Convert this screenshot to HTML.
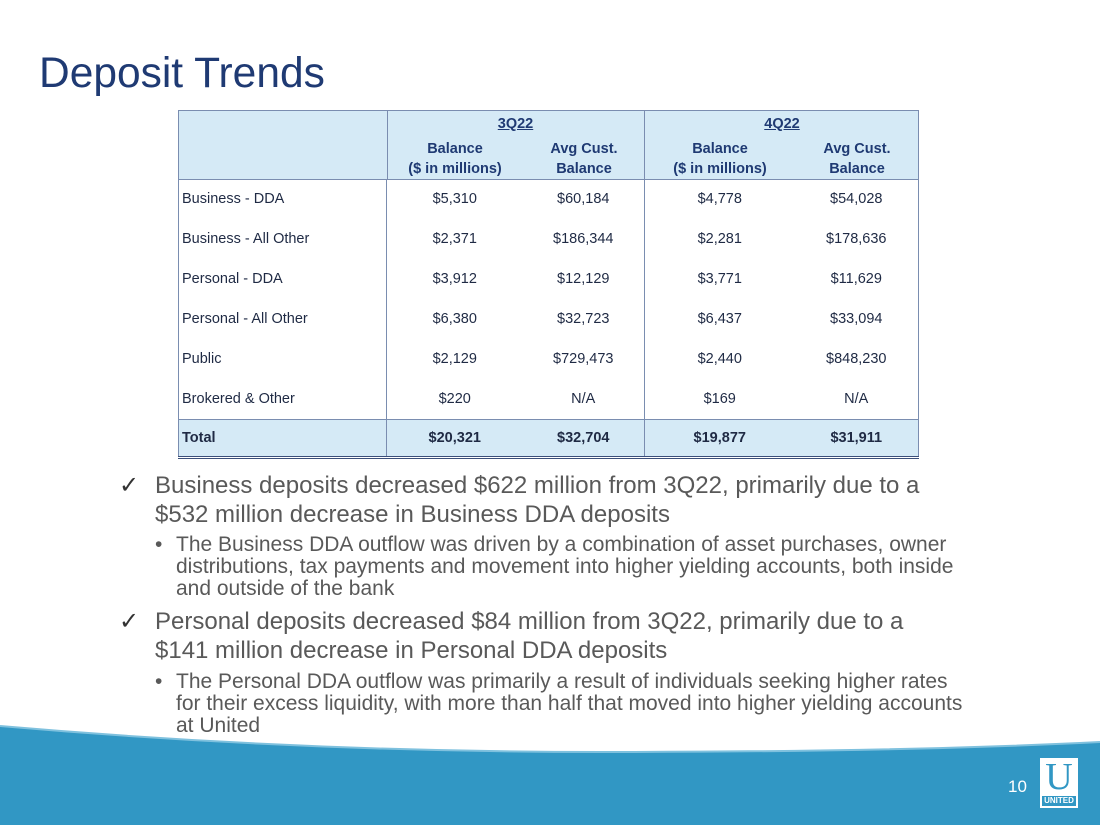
<!DOCTYPE html>
<html><head><meta charset="utf-8"><style>
body{margin:0;width:1100px;height:825px;position:relative;overflow:hidden;background:#fff;font-family:"Liberation Sans",sans-serif}
.title{position:absolute;left:39px;top:50px;font-size:42.5px;color:#1f3a73}
.hdr{position:absolute;left:178px;top:110px;width:739px;height:68px;background:#d5eaf6;border:1px solid #7a8db0;color:#1f3a73;font-weight:bold;font-size:14.5px}
.hdr div{position:absolute;text-align:center;line-height:20px}
table{position:absolute;left:178px;top:179px;width:741px;border-collapse:collapse;font-size:14.5px;color:#1f2a44;table-layout:fixed;line-height:16px;border:1px solid #7a8db0;border-top:none}
td{height:40px;padding:0;text-align:center;vertical-align:middle;overflow:hidden;white-space:nowrap}
td.l{text-align:left;padding-left:3px}
.tot td{background:#d5eaf6;font-weight:bold;border-top:1px solid #7a8db0;border-bottom:3px double #3a4f7a;height:36px}
.vb{border-left:1px solid #7a8db0}
.b1{position:absolute;left:155px;font-size:24px;color:#595959;line-height:29px;width:800px}
.b1:before{content:"✓";position:absolute;left:-36px;color:#333}
.b2{position:absolute;left:176px;font-size:21px;color:#595959;line-height:22px;width:800px}
.b2:before{content:"•";position:absolute;left:-21px}
</style></head><body>
<div class="title">Deposit Trends</div>
<div class="hdr">
<div style="left:208px;top:0;width:257px;height:68px;border-left:1px solid #7a8db0"></div>
<div style="left:465px;top:0;width:274px;height:68px;border-left:1px solid #7a8db0"></div>
<div style="left:208px;top:3px;width:257px;text-decoration:underline">3Q22</div>
<div style="left:466px;top:3px;width:274px;text-decoration:underline">4Q22</div>
<div style="left:208px;top:28px;width:136px">Balance<br>($ in millions)</div>
<div style="left:344px;top:28px;width:122px">Avg Cust.<br>Balance</div>
<div style="left:466px;top:28px;width:150px">Balance<br>($ in millions)</div>
<div style="left:616px;top:28px;width:124px">Avg Cust.<br>Balance</div>
</div>
<table>
<colgroup><col style="width:208px"><col style="width:136px"><col style="width:122px"><col style="width:150px"><col></colgroup>
<tr><td class="l">Business - DDA</td><td class="vb">$5,310</td><td>$60,184</td><td class="vb">$4,778</td><td>$54,028</td></tr>
<tr><td class="l">Business - All Other</td><td class="vb">$2,371</td><td>$186,344</td><td class="vb">$2,281</td><td>$178,636</td></tr>
<tr><td class="l">Personal - DDA</td><td class="vb">$3,912</td><td>$12,129</td><td class="vb">$3,771</td><td>$11,629</td></tr>
<tr><td class="l">Personal - All Other</td><td class="vb">$6,380</td><td>$32,723</td><td class="vb">$6,437</td><td>$33,094</td></tr>
<tr><td class="l">Public</td><td class="vb">$2,129</td><td>$729,473</td><td class="vb">$2,440</td><td>$848,230</td></tr>
<tr><td class="l">Brokered &amp; Other</td><td class="vb">$220</td><td>N/A</td><td class="vb">$169</td><td>N/A</td></tr>
<tr class="tot"><td class="l">Total</td><td class="vb">$20,321</td><td>$32,704</td><td class="vb">$19,877</td><td>$31,911</td></tr>
</table>
<div class="b1" style="top:471px">Business deposits decreased $622 million from 3Q22, primarily due to a $532 million decrease in Business DDA deposits</div>
<div class="b2" style="top:534px">The Business DDA outflow was driven by a combination of asset purchases, owner distributions, tax payments and movement into higher yielding accounts, both inside and outside of the bank</div>
<div class="b1" style="top:607px">Personal deposits decreased $84 million from 3Q22, primarily due to a $141 million decrease in Personal DDA deposits</div>
<div class="b2" style="top:671px">The Personal DDA outflow was primarily a result of individuals seeking higher rates for their excess liquidity, with more than half that moved into higher yielding accounts at United</div>
<svg style="position:absolute;left:0;top:0" width="1100" height="825">
<path d="M0,726 Q300,752 600,752 Q900,752 1100,742 L1100,825 L0,825Z" fill="#3197c4"/>
<path d="M0,726 Q300,752 600,752 Q900,752 1100,742" fill="none" stroke="#7fc1de" stroke-width="2"/>
</svg>
<div style="position:absolute;left:1008px;top:777px;color:#fff;font-size:17px">10</div>
<div style="position:absolute;left:1040px;top:758px;width:38px;height:50px;background:#fff">
<div style="position:absolute;left:0;top:0;width:38px;text-align:center;font-family:'Liberation Serif',serif;font-size:38px;color:#3197c4;line-height:38px">U</div>
<div style="position:absolute;left:2px;top:38px;width:34px;height:10px;background:#3197c4;color:#fff;font-size:8px;font-weight:bold;text-align:center;line-height:10px">UNITED</div>
</div>
</body></html>
